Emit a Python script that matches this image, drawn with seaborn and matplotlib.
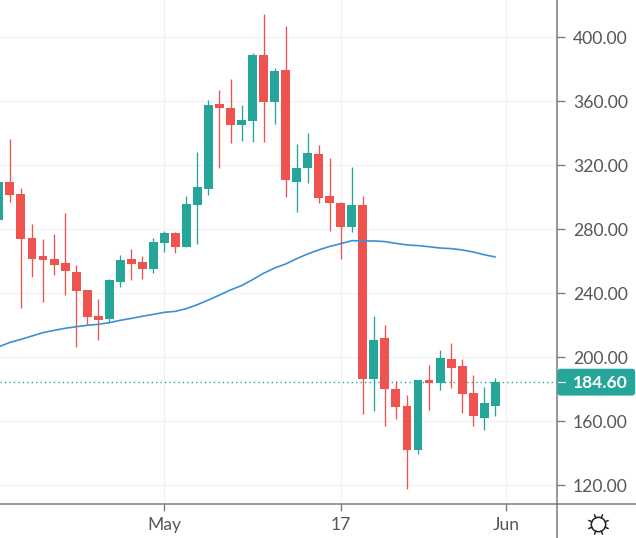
import matplotlib
matplotlib.use("Agg")
import matplotlib.pyplot as plt
import matplotlib.dates as mdates
from matplotlib.patches import Circle, FancyBboxPatch
import numpy as np
import pandas as pd
import seaborn as sns

# daily candles, 16 Apr - 31 May
opens = [285.8, 309.6, 302.1, 274.6, 263.3, 261.4, 258.9, 253.3, 242.1, 225.8,
         224.1, 247.3, 261.4, 259.6, 255.4, 271.4, 277.7, 269.1, 295.4, 305.2,
         358.3, 355.8, 345.2, 347.7, 388.9, 359.6, 379.6, 309.6, 318.3, 327.1,
         300.8, 296.4, 281.4, 295.2, 186.4, 212.1, 180.2, 169.6, 142.1, 185.8,
         183.9, 198.9, 194.6, 177.7, 162.1, 169.6]
closes = [309.6, 301.4, 274.1, 261.6, 260.8, 257.7, 254.1, 241.6, 225.4, 223.3,
          248.3, 260.8, 258.3, 255.4, 272.1, 277.7, 268.9, 295.8, 306.4, 357.7,
          355.8, 345.2, 348.3, 388.9, 359.6, 378.9, 310.8, 318.3, 327.7, 299.6,
          296.4, 281.4, 295.2, 186.4, 210.8, 180.2, 168.9, 142.1, 185.8, 183.9,
          199.6, 193.3, 177.1, 163.3, 171.4, 184.6]
highs = [310.0, 336.2, 305.6, 283.3, 273.9, 277.1, 290.0, 257.5, 242.1, 236.4,
         248.9, 263.9, 267.7, 263.1, 274.6, 278.9, 278.3, 300.8, 328.3, 360.8,
         367.1, 373.9, 357.7, 390.2, 414.6, 380.8, 407.1, 333.3, 340.2, 332.7,
         324.6, 297.1, 318.9, 300.8, 225.8, 220.2, 185.2, 176.4, 185.8, 195.2,
         204.6, 208.9, 198.9, 188.9, 181.4, 187.1]
lows = [285.0, 297.3, 231.0, 250.4, 234.8, 251.6, 239.1, 206.6, 220.8, 211.0,
        221.8, 244.1, 248.5, 249.1, 252.9, 266.0, 265.4, 269.1, 270.8, 301.4,
        318.5, 333.9, 335.2, 334.6, 334.6, 345.8, 300.2, 290.8, 308.9, 296.4,
        279.1, 261.4, 278.3, 164.6, 166.6, 157.1, 161.4, 117.7, 139.6, 167.1,
        179.6, 180.8, 165.2, 157.1, 154.6, 163.3]
moving_avg = [206.6, 209.3, 211.2, 213.3, 215.4, 216.8, 218.1, 219.1, 220.0, 220.6,
              221.6, 223.1, 224.3, 225.6, 226.8, 228.1, 228.7, 230.4, 232.9, 235.8,
              238.9, 242.1, 244.8, 248.5, 252.5, 255.8, 258.3, 261.6, 264.6, 267.1,
              269.3, 271.0, 272.9, 272.7, 272.7, 272.3, 271.2, 270.2, 269.8, 269.1,
              268.3, 267.9, 267.1, 265.8, 264.1, 262.7]
y_ticks = [120, 160, 200, 240, 280, 320, 360, 400]
x_tick_dates = ["2021-05-01", "2021-05-17", "2021-06-01"]
x_tick_labels = ["May", "17", "Jun"]
last_price = 184.60

RED = "#ef5350"
GREEN = "#26a69a"
BLUE = "#3c8fd4"
GRID = "#f1f3f6"
AXIS = "#7c7c7c"
TEXT = "#55555b"

sns.set_theme(style="white")
plt.rcParams["font.family"] = ["Lato", "DejaVu Sans"]

df = pd.DataFrame({"date": pd.date_range("2021-04-16", periods=len(opens)),
                   "open": opens, "close": closes, "high": highs, "low": lows,
                   "ma": moving_avg})
df["color"] = np.where(df["close"] >= df["open"], GREEN, RED)
df["num"] = mdates.date2num(df["date"])

W, H = 636, 538
fig = plt.figure(figsize=(W / 100, H / 100), dpi=100)
ax = fig.add_axes([0, (H - 504.3) / H, 557.3 / W, 504.3 / H])

# candles
ax.vlines(df["num"], df["low"], df["high"], colors=df["color"], lw=0.95, zorder=3)
ax.bar(df["num"], (df["close"] - df["open"]).abs(), bottom=df[["open", "close"]].min(axis=1),
       width=0.81, color=df["color"], linewidth=0, zorder=4)

# moving average
sns.lineplot(data=df, x="num", y="ma", color=BLUE, lw=1.2, ax=ax, zorder=5)

ax.axhline(last_price, color=GREEN, lw=1, ls=(0, (1, 2.2)), zorder=2)

x0 = mdates.date2num(pd.Timestamp("2021-05-01"))
ax.set_xlim(x0 - 14.9, x0 + 35.63)
ax.set_ylim(108.1, 423.31)
ax.set_xticks(mdates.date2num(pd.to_datetime(x_tick_dates)))
ax.set_xticklabels(x_tick_labels)
ax.set_yticks(y_ticks)
ax.set_yticklabels([f"{v:.2f}" for v in y_ticks])
ax.set_xlabel("")
ax.set_ylabel("")
ax.yaxis.tick_right()
ax.grid(True, color=GRID, lw=1)
ax.set_axisbelow(True)
ax.tick_params(axis="y", length=5.8, width=1, color=AXIS, labelcolor=TEXT, labelsize=12.6, pad=5.3,
               left=False, right=True)
ax.tick_params(axis="x", length=5, width=1, color=AXIS, labelcolor=TEXT, labelsize=12.6, pad=4.5,
               bottom=True)
for s in ["top", "left"]:
    ax.spines[s].set_visible(False)
for s in ["right", "bottom"]:
    ax.spines[s].set_color(AXIS)
    ax.spines[s].set_linewidth(1.1)

# overlay in pixels for the axis corner, price tag and sun icon
ov = fig.add_axes([0, 0, 1, 1], zorder=10)
ov.set_xlim(0, W)
ov.set_ylim(H, 0)
ov.axis("off")
ov.plot([557.3, W], [504.3, 504.3], color=AXIS, lw=1.1)
ov.plot([557.3, 557.3], [504.3, H], color=AXIS, lw=1.1)

py = H - ax.transData.transform((x0, last_price))[1]
ov.add_patch(FancyBboxPatch((558, py - 12.5), 76.5, 25.5, boxstyle="round,pad=0,rounding_size=2.5",
                            fc=GREEN, ec=GREEN, lw=1))
ov.plot([557.5, 565], [py, py], color="white", lw=0.8)
ov.text(573, py, f"{last_price:.2f}", color="white", fontsize=12.6, fontweight="bold",
        ha="left", va="center_baseline")

# sun icon
sx, sy = 598.5, 524.5
ov.add_patch(Circle((sx, sy), 7.2, fc="none", ec="#222222", lw=1.1))
for a in np.arange(0, 360, 45) + 22.5:
    c, s = np.cos(np.radians(a)), np.sin(np.radians(a))
    ov.plot([sx + 7.2 * c, sx + 10.5 * c], [sy + 7.2 * s, sy + 10.5 * s], color="#222222", lw=1.1)

fig.savefig("out.png", dpi=100)
